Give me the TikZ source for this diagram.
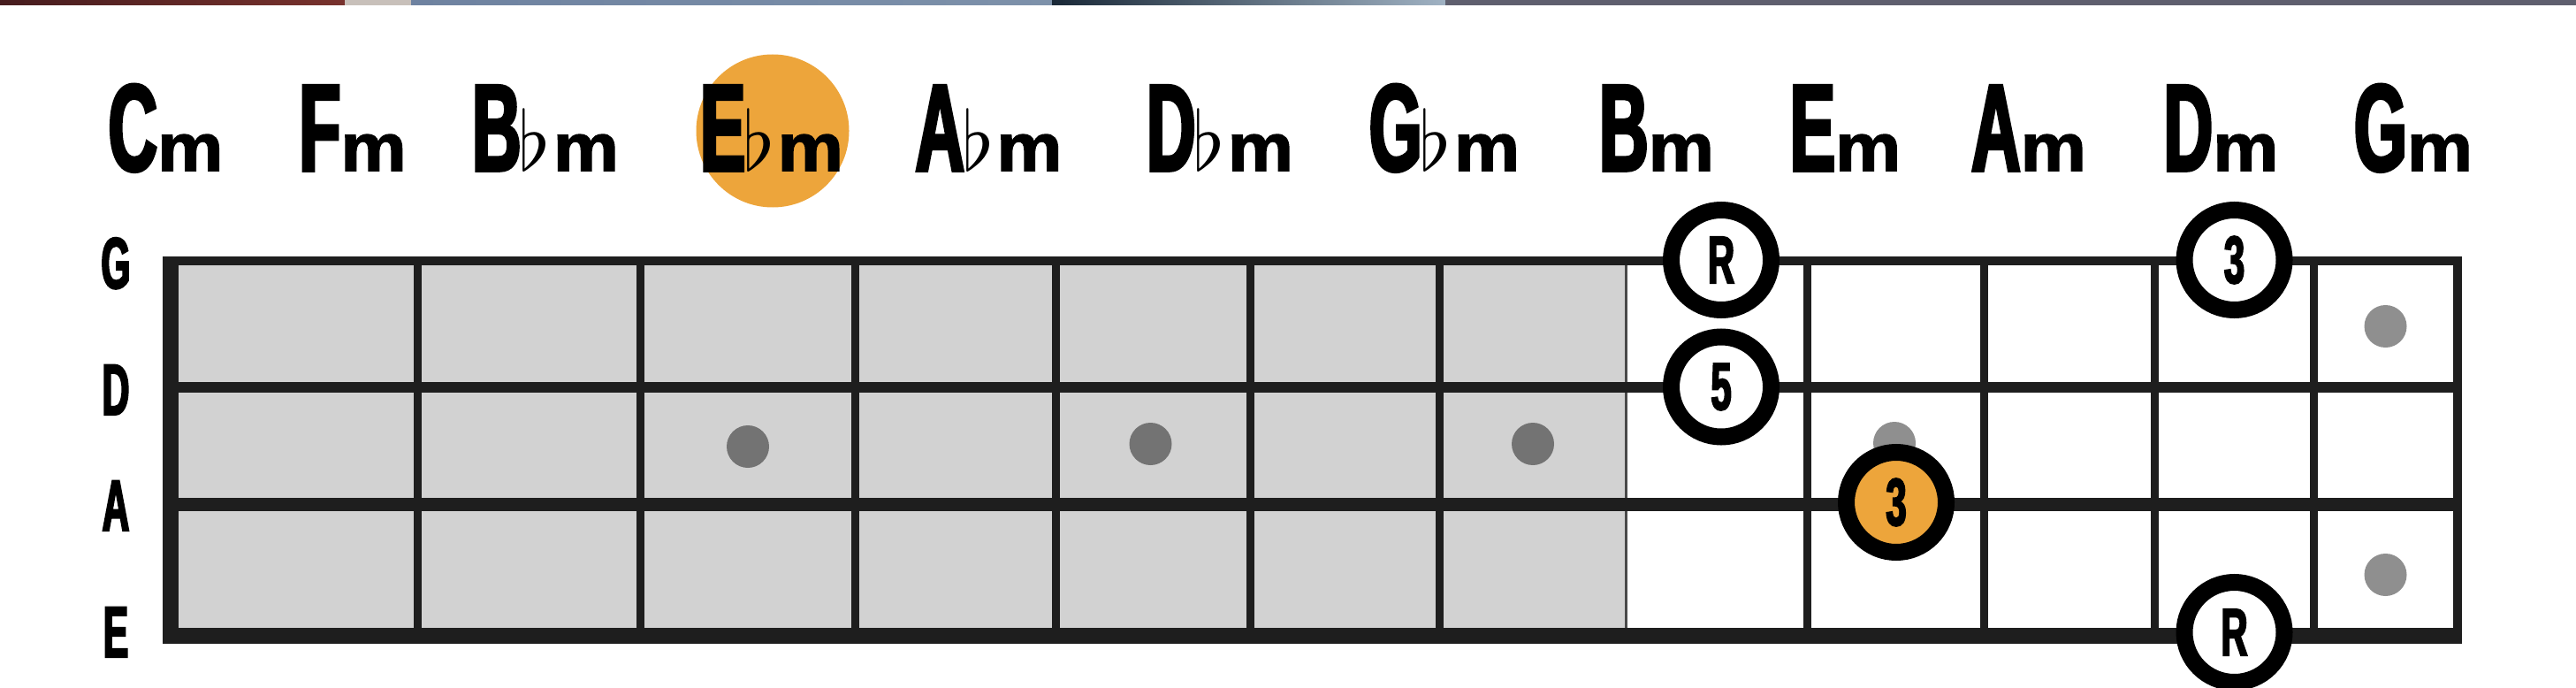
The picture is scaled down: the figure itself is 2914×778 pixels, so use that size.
\documentclass[tikz,border=0pt]{standalone}
\usepackage{fontspec}
\usepackage{graphicx}
\newfontfamily\chordfont{Liberation Sans Bold}[FakeStretch=0.55,FakeBold=2.5]
\newfontfamily\mfont{Liberation Sans Bold}[FakeStretch=1.1,FakeBold=2]
\newfontfamily\lblfont{Liberation Sans Bold}[FakeStretch=0.52,FakeBold=2.5]
\definecolor{fretline}{HTML}{1E1E1E}
\definecolor{boardgray}{HTML}{D2D2D2}
\definecolor{dotdark}{HTML}{737373}
\definecolor{dotlight}{HTML}{8F8F8F}
\definecolor{hlorange}{HTML}{EDA53B}
\definecolor{sepcol}{HTML}{4A4A4A}
\definecolor{stripA}{RGB}{70,28,30}
\definecolor{stripB}{RGB}{120,50,45}
\definecolor{stripC}{RGB}{200,192,186}
\definecolor{stripD}{RGB}{110,130,160}
\definecolor{stripE}{RGB}{125,145,170}
\definecolor{stripF}{RGB}{25,40,55}
\definecolor{stripG}{RGB}{160,178,195}
\definecolor{stripH}{RGB}{95,95,110}
\newcommand\bigL[1]{{\chordfont\fontsize{140}{140}\selectfont #1}}
\newcommand\smM{{\mfont\fontsize{76}{76}\selectfont m}}
\newcommand\flt{\hspace*{-3pt}\scalebox{9.3}{$\flat$}\hspace*{3pt}}
\begin{document}
\begin{tikzpicture}[x=1pt,y=-1pt,
  chord/.style={anchor=base, inner sep=0pt, text=black},
  strlbl/.style={anchor=base, inner sep=0pt, text=black, font=\lblfont\fontsize{82}{82}\selectfont},
  marker/.style={circle, draw=black, line width=19pt, fill=white, minimum size=113pt, inner sep=0pt,
     text=black, font=\chordfont\fontsize{76}{76}\selectfont},
  dotmark/.style={circle, inner sep=0pt, minimum size=48pt},
  fret/.style={line width=9pt, draw=fretline},
  stringline/.style={draw=fretline}]
\useasboundingbox (0,0) rectangle (2914,778);
\fill[white] (0,0) rectangle (2914,778);
% top photo strip
\fill[left color=stripA, right color=stripB] (0,0) rectangle (390,6);
\fill[stripC] (390,0) rectangle (465,6);
\fill[left color=stripD, right color=stripE] (465,0) rectangle (1190,6);
\fill[left color=stripF, right color=stripG] (1190,0) rectangle (1635,6);
\fill[stripH] (1635,0) rectangle (2914,6);

% highlight behind E flat minor
\node[circle, fill=hlorange, minimum size=173pt, inner sep=0pt] (hl) at (874,148) {};

% chord names
\node[chord] (c1) at (187.5,193) {\bigL{C}\smM};
\node[chord] (c2) at (399,193) {\bigL{F}\smM};
\node[chord] (c3) at (617,193) {\bigL{B}\flt\smM};
\node[chord] (c4) at (873,193) {\bigL{E}\flt\smM};
\node[chord] (c5) at (1118.5,193) {\bigL{A}\flt\smM};
\node[chord] (c6) at (1380,193) {\bigL{D}\flt\smM};
\node[chord] (c7) at (1634,193) {\bigL{G}\flt\smM};
\node[chord] (c8) at (1874,193) {\bigL{B}\smM};
\node[chord] (c9) at (2087.5,193) {\bigL{E}\smM};
\node[chord] (c10) at (2295,193) {\bigL{A}\smM};
\node[chord] (c11) at (2512.5,193) {\bigL{D}\smM};
\node[chord] (c12) at (2730,193) {\bigL{G}\smM};

% string names
\node[strlbl] (sG) at (131,326) {G};
\node[strlbl] (sD) at (131,469) {D};
\node[strlbl] (sA) at (131,600) {A};
\node[strlbl] (sE) at (131,743) {E};

% grey part of the board
\fill[boardgray] (193,295) rectangle (1839,719);
\node[dotmark, fill=dotdark] (m1) at (846,505) {};
\node[dotmark, fill=dotdark] (m2) at (1301.5,502) {};
\node[dotmark, fill=dotdark] (m3) at (1734,502) {};

% frets
\foreach \fx in {472,724,967.5,1194.7,1414.7,1628.3,2044,2244,2437,2617}
  \draw[fret] (\fx,295) -- (\fx,719);
\draw[line width=3pt, sepcol] (1839.5,290) -- (1839.5,728);

% strings
\coordinate (gL) at (184,295);   \coordinate (gR) at (2785,295);
\coordinate (dL) at (184,437.5); \coordinate (dR) at (2785,437.5);
\coordinate (aL) at (184,570.5); \coordinate (aR) at (2785,570.5);
\coordinate (eL) at (184,719);   \coordinate (eR) at (2785,719);
\draw[stringline, line width=10pt] (gL) -- (gR);
\draw[stringline, line width=12pt] (dL) -- (dR);
\draw[stringline, line width=15pt] (aL) -- (aR);
\draw[stringline, line width=18pt] (eL) -- (eR);
% nut and end
\draw[fretline, line width=18pt] (193,290) -- (193,728);
\draw[fretline, line width=10pt] (2780,290) -- (2780,728);

% light dots in white part
\node[dotmark, fill=dotlight] (m4) at (2143,501) {};
\node[dotmark, fill=dotlight] (m5) at (2698.5,369) {};
\node[dotmark, fill=dotlight] (m6) at (2698.5,650) {};

% chord tones
\node[marker] (n1) at (1947,294) {R};
\node[marker] (n2) at (1947,437.5) {5};
\node[marker] (n3) at (2527.5,294) {3};
\node[marker, fill=hlorange] (n4) at (2145,568) {3};
\node[marker] (n5) at (2527.5,715) {R};
\end{tikzpicture}
\end{document}
